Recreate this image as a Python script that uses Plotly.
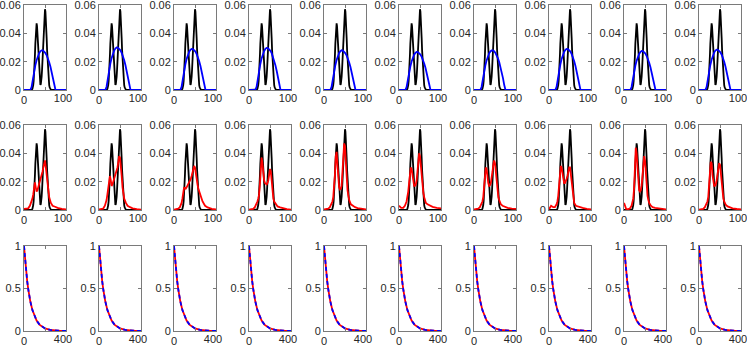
import plotly.graph_objects as go

# ---------------- data ----------------
# true bimodal density (black), same in rows 1 and 2
x_true = [0] + list(range(17, 68)) + [100]
y_true = [0,
          0.0001, 0.0001, 0.0003, 0.0008, 0.0017, 0.0035, 0.0064, 0.0108, 0.0169, 0.0244,
          0.0326, 0.0399, 0.0451, 0.0470, 0.0451, 0.0399, 0.0326, 0.0244, 0.0170, 0.0110,
          0.0068, 0.0044, 0.0036, 0.0041, 0.0061, 0.0094, 0.0143, 0.0205, 0.0280, 0.0362,
          0.0442, 0.0509, 0.0554, 0.0570, 0.0554, 0.0509, 0.0442, 0.0362, 0.0280, 0.0205,
          0.0142, 0.0093, 0.0057, 0.0034, 0.0019, 0.0010, 0.0005, 0.0002, 0.0001, 0.0000,
          0.0000,
          0]

# row 1: smooth estimates (blue)
x_blue = [0, 15, 18, 21, 24, 27, 30, 33, 36, 39, 42, 45, 48, 51, 54, 57, 60, 63, 66, 69, 72, 75, 100]
blue_1 = [0, 0, .0021, .0080, .0130, .0174, .0210, .0239, .0260, .0273, .0280, .0279, .0273, .0261, .0245, .0223, .0196, .0164, .0126, .0083, .0035, 0, 0]
blue_2 = [0, 0, .0023, .0085, .0140, .0186, .0225, .0256, .0278, .0293, .0300, .0299, .0292, .0280, .0262, .0239, .0210, .0175, .0135, .0089, .0038, 0, 0]
blue_3 = [0, 0, .0022, .0082, .0135, .0180, .0218, .0247, .0269, .0283, .0290, .0289, .0282, .0271, .0253, .0231, .0203, .0169, .0131, .0086, .0036, 0, 0]
blue_4 = [0, 0, .0022, .0084, .0138, .0184, .0223, .0253, .0275, .0290, .0297, .0296, .0289, .0277, .0260, .0236, .0208, .0173, .0134, .0088, .0037, 0, 0]
blue_5 = [0, 0, .0022, .0081, .0131, .0175, .0211, .0240, .0261, .0274, .0280, .0278, .0271, .0259, .0243, .0221, .0194, .0162, .0124, .0082, .0034, 0, 0]
blue_6 = [0, 0, .0020, .0076, .0125, .0166, .0201, .0228, .0249, .0262, .0268, .0267, .0261, .0250, .0234, .0213, .0187, .0157, .0121, .0080, .0034, 0, 0]
blue_7 = [0, 0, .0021, .0079, .0130, .0173, .0209, .0238, .0259, .0272, .0279, .0279, .0274, .0262, .0246, .0224, .0197, .0165, .0127, .0084, .0035, 0, 0]
blue_8 = [0, 0, .0022, .0082, .0135, .0180, .0218, .0247, .0269, .0283, .0290, .0289, .0282, .0271, .0253, .0231, .0203, .0169, .0131, .0086, .0036, 0, 0]
blue_9 = [0, 0, .0021, .0078, .0128, .0171, .0206, .0234, .0255, .0268, .0275, .0274, .0268, .0257, .0240, .0219, .0192, .0161, .0124, .0082, .0034, 0, 0]
blue_10 = [0, 0, .0021, .0081, .0133, .0177, .0214, .0243, .0264, .0278, .0285, .0284, .0278, .0266, .0249, .0227, .0199, .0166, .0128, .0085, .0036, 0, 0]

# row 2: noisy estimates (red)
x_red = [0, 5, 10, 14, 18, 20, 22, 24, 26, 28, 30, 32, 34, 36, 38, 40, 42, 44, 46, 48, 50,
         52, 54, 56, 58, 60, 64, 68, 74, 80, 90, 100]
red_1 = [0.0008, 0.0008, 0.0012, 0.003, 0.006, 0.008, 0.011, 0.016, 0.0195, 0.016, 0.013, 0.014, 0.016, 0.018, 0.020, 0.023,
         0.025, 0.027, 0.030, 0.034, 0.035, 0.030, 0.024, 0.018, 0.013, 0.009, 0.005, 0.003, 0.0023, 0.0015, 0.0008, 0.0005]
red_2 = [0.0005, 0.0005, 0.001, 0.003, 0.007, 0.011, 0.017, 0.022, 0.024, 0.021, 0.017, 0.018, 0.020, 0.022, 0.024, 0.026,
         0.028, 0.030, 0.034, 0.038, 0.037, 0.032, 0.024, 0.016, 0.011, 0.008, 0.005, 0.003, 0.002, 0.0012, 0.0006, 0.0003]
red_3 = [0.0003, 0.0005, 0.001, 0.002, 0.005, 0.008, 0.013, 0.016, 0.0155, 0.015, 0.016, 0.017, 0.018, 0.019, 0.021, 0.022,
         0.024, 0.026, 0.029, 0.031, 0.030, 0.025, 0.021, 0.018, 0.015, 0.013, 0.009, 0.006, 0.003, 0.0018, 0.0008, 0.0004]
red_4 = [0.0003, 0.0004, 0.0008, 0.002, 0.004, 0.006, 0.008, 0.011, 0.018, 0.028, 0.037, 0.033, 0.026, 0.021, 0.019, 0.018,
         0.018, 0.019, 0.021, 0.025, 0.029, 0.027, 0.019, 0.012, 0.008, 0.006, 0.004, 0.0025, 0.0018, 0.0012, 0.0006, 0.0003]
red_5 = [0.0005, 0.0006, 0.001, 0.002, 0.004, 0.006, 0.009, 0.015, 0.025, 0.038, 0.041, 0.032, 0.022, 0.016, 0.0145, 0.015,
         0.017, 0.024, 0.037, 0.047, 0.045, 0.034, 0.022, 0.014, 0.010, 0.007, 0.004, 0.003, 0.002, 0.0014, 0.0008, 0.0005]
red_6 = [0.003, 0.0015, 0.0015, 0.003, 0.006, 0.009, 0.013, 0.019, 0.026, 0.030, 0.029, 0.024, 0.019, 0.017, 0.017, 0.018,
         0.021, 0.027, 0.035, 0.040, 0.038, 0.030, 0.022, 0.016, 0.012, 0.009, 0.005, 0.004, 0.003, 0.0022, 0.0015, 0.0012]
red_7 = [0.0005, 0.0006, 0.001, 0.002, 0.004, 0.006, 0.009, 0.015, 0.024, 0.030, 0.029, 0.023, 0.019, 0.017, 0.0175, 0.019,
         0.022, 0.027, 0.032, 0.035, 0.033, 0.026, 0.018, 0.013, 0.009, 0.007, 0.004, 0.003, 0.002, 0.0015, 0.001, 0.0008]
red_8 = [0.0005, 0.003, 0.002, 0.002, 0.004, 0.006, 0.010, 0.016, 0.025, 0.031, 0.030, 0.025, 0.021, 0.019, 0.019, 0.020,
         0.022, 0.024, 0.027, 0.030, 0.030, 0.025, 0.017, 0.011, 0.007, 0.005, 0.003, 0.0025, 0.002, 0.0015, 0.0008, 0.0005]
red_9 = [0.005, 0.0008, 0.0006, 0.001, 0.003, 0.005, 0.008, 0.015, 0.030, 0.044, 0.040, 0.028, 0.018, 0.014, 0.013, 0.014,
         0.017, 0.024, 0.033, 0.038, 0.035, 0.026, 0.016, 0.010, 0.007, 0.005, 0.003, 0.002, 0.0015, 0.0012, 0.0008, 0.0005]
red_10 = [0.0003, 0.0004, 0.0008, 0.002, 0.004, 0.006, 0.009, 0.015, 0.026, 0.034, 0.033, 0.025, 0.019, 0.017, 0.017, 0.018,
          0.021, 0.026, 0.031, 0.033, 0.032, 0.025, 0.017, 0.011, 0.008, 0.006, 0.0035, 0.0025, 0.0018, 0.0012, 0.0007, 0.0004]

# row 3: autocorrelation-like decays (red solid, blue dashed)
x_acf = [0, 10, 20, 30, 40, 50, 60, 80, 100, 120, 150, 200, 250, 300, 350, 400]
acf_red = [1, 0.839, 0.704, 0.591, 0.496, 0.416, 0.349, 0.246, 0.173, 0.122, 0.072, 0.030, 0.0125, 0.0052, 0.0022, 0.0009]
acf_blue = [1, 0.839, 0.704, 0.591, 0.496, 0.416, 0.349, 0.246, 0.173, 0.122, 0.072, 0.030, 0.0125, 0.0052, 0.0022, 0.0009]

blues = [blue_1, blue_2, blue_3, blue_4, blue_5, blue_6, blue_7, blue_8, blue_9, blue_10]
reds = [red_1, red_2, red_3, red_4, red_5, red_6, red_7, red_8, red_9, red_10]

dens_ticks = [0, 0.02, 0.04, 0.06]
dens_ticktext = ["0", "0.02", "0.04", "0.06"]
acf_ticks = [0, 0.5, 1]
acf_ticktext = ["0", "0.5", "1"]

# ---------------- figure ----------------
W, H = 747, 347
fig = go.Figure()
FONT = "Liberation Sans, Arial, sans-serif"
AXCOL = "#7a7a7a"
TXT = "#262626"
LW = 1.8

rows_px = [(5, 90), (125, 210), (246, 331)]
layout = {}
for r in range(3):
    for c in range(10):
        n = r * 10 + c + 1
        m = n + 30  # overlay x axis carrying the right-end label
        xs = "x" if n == 1 else f"x{n}"
        ys = "y" if n == 1 else f"y{n}"
        xs2 = f"x{m}"
        left = 24 + 75 * c
        right = left + 42
        top, bot = rows_px[r]
        tf = dict(family=FONT, size=11, color=TXT)
        common = dict(showline=True, mirror="ticks", linecolor=AXCOL, linewidth=1,
                      ticks="inside", ticklen=3, tickcolor=AXCOL, showgrid=False,
                      zeroline=False, tickfont=tf,
                      fixedrange=True, automargin=False, ticklabeloverflow="allow")
        xmax = 100 if r < 2 else 400
        xa = dict(domain=[left / W, right / W], range=[0, xmax], tickvals=[0, xmax / 2, xmax],
                  ticktext=["0", "", ""], anchor=ys, **common)
        xa2 = dict(domain=[left / W, right / W], range=[0, xmax], overlaying=xs, anchor=ys,
                   side="bottom", showline=False, showgrid=False, zeroline=False, ticks="",
                   tickvals=[xmax], ticktext=[str(xmax)], ticklabelshift=-3, tickfont=tf,
                   fixedrange=True, automargin=False, ticklabeloverflow="allow")
        if r < 2:
            ya = dict(domain=[1 - bot / H, 1 - top / H], range=[0, 0.06], tickvals=dens_ticks,
                      ticktext=dens_ticktext, anchor=xs, **common)
        else:
            ya = dict(domain=[1 - bot / H, 1 - top / H], range=[0, 1], tickvals=acf_ticks,
                      ticktext=acf_ticktext, anchor=xs, **common)
        layout["xaxis" if n == 1 else f"xaxis{n}"] = xa
        layout[f"xaxis{m}"] = xa2
        layout["yaxis" if n == 1 else f"yaxis{n}"] = ya

        # empty trace registering the overlay axis
        fig.add_trace(go.Scatter(x=[], y=[], mode="lines", xaxis=xs2, yaxis=ys,
                                 showlegend=False, hoverinfo="skip"))
        if r == 0:
            fig.add_trace(go.Scatter(x=x_true, y=y_true, mode="lines", xaxis=xs, yaxis=ys,
                                     line=dict(color="black", width=LW), showlegend=False))
            fig.add_trace(go.Scatter(x=x_blue, y=blues[c], mode="lines", xaxis=xs, yaxis=ys,
                                     line=dict(color="#0000ff", width=LW), showlegend=False))
        elif r == 1:
            fig.add_trace(go.Scatter(x=x_true, y=y_true, mode="lines", xaxis=xs, yaxis=ys,
                                     line=dict(color="black", width=LW), showlegend=False))
            fig.add_trace(go.Scatter(x=x_red, y=reds[c], mode="lines", xaxis=xs, yaxis=ys,
                                     line=dict(color="#ff0000", width=LW), showlegend=False))
        else:
            fig.add_trace(go.Scatter(x=x_acf, y=acf_red, mode="lines", xaxis=xs, yaxis=ys,
                                     line=dict(color="#ff0000", width=LW), showlegend=False))
            fig.add_trace(go.Scatter(x=x_acf, y=acf_blue, mode="lines", xaxis=xs, yaxis=ys,
                                     line=dict(color="#0000ff", width=LW, dash="4px,3px"),
                                     showlegend=False))

fig.update_layout(width=W, height=H, margin=dict(l=0, r=0, t=0, b=0, autoexpand=False),
                  paper_bgcolor="white", plot_bgcolor="white",
                  font=dict(family=FONT, size=11, color=TXT), **layout)

fig.write_html("out.html", config={"displayModeBar": False})

# remove the browser's default page margin so the figure sits at the window origin
with open("out.html", "r", encoding="utf-8") as f:
    html = f.read()
html = html.replace("<head>", "<head><style>html,body{margin:0;padding:0;overflow:hidden;}</style>", 1)
with open("out.html", "w", encoding="utf-8") as f:
    f.write(html)
